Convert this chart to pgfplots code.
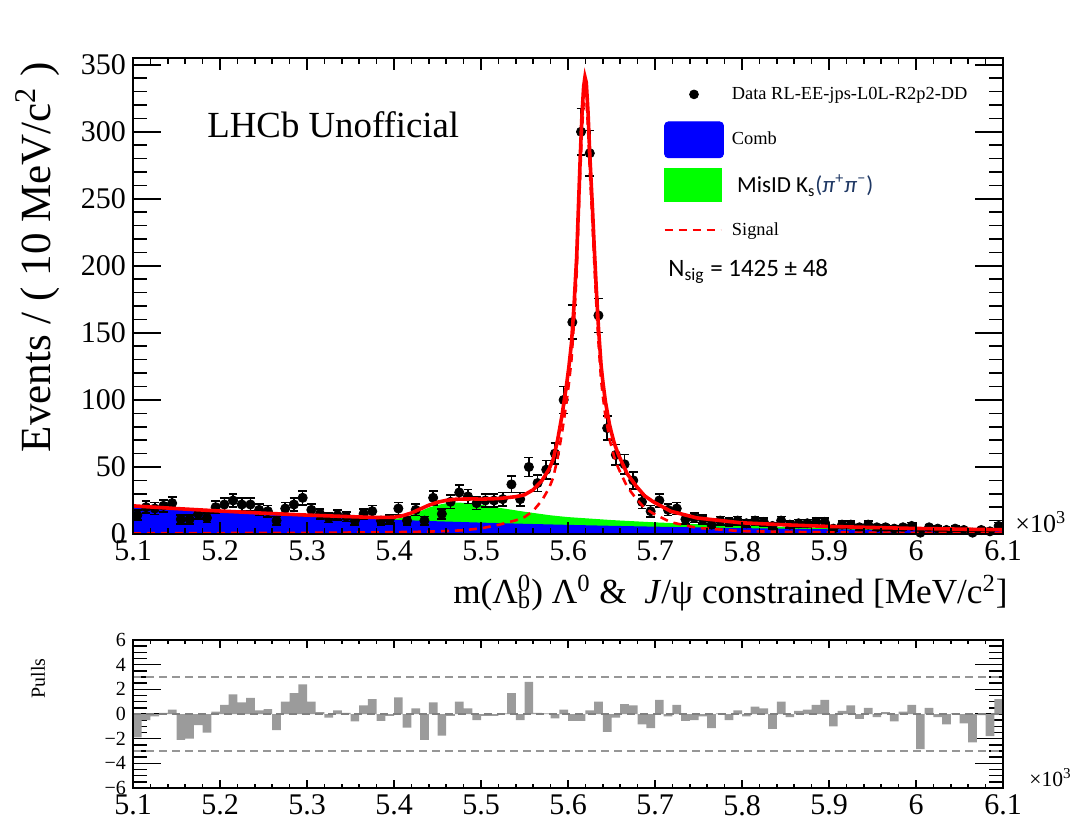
\documentclass[border=0pt]{standalone}
\usepackage{fontspec}
\setmainfont{Liberation Serif}
\newfontfamily\calibri{Carlito}
\usepackage{pgfplots}
\usepackage{pgfplotstable}
\pgfplotsset{compat=1.18}
\definecolor{rootblue}{RGB}{0,0,255}
\definecolor{rootgreen}{RGB}{0,255,0}
\definecolor{rootred}{RGB}{255,0,0}
\definecolor{pullgray}{RGB}{155,155,155}
\definecolor{dashgray}{RGB}{150,150,150}
\definecolor{mathblue}{RGB}{31,56,100}

% data: bin centres and counts
\pgfplotstableread{
x y
5.105 14
5.115 20
5.125 19
5.135 21
5.145 23
5.155 11
5.165 11
5.175 15
5.185 12
5.195 20
5.205 22
5.215 25
5.225 22
5.235 22
5.245 18
5.255 17
5.265 10
5.275 19
5.285 22
5.295 27
5.305 18
5.315 15
5.325 12
5.335 14
5.345 13
5.355 10
5.365 15
5.375 17
5.385 10
5.395 11
5.405 19
5.415 10
5.425 18
5.435 10
5.445 27
5.455 15
5.465 24
5.475 31
5.485 28
5.495 23
5.505 25
5.515 25
5.525 26
5.535 37
5.545 26
5.555 50
5.565 38
5.575 48
5.585 60
5.595 100
5.605 158
5.615 300
5.625 284
5.635 163
5.645 79
5.655 59
5.665 52
5.675 40
5.685 24
5.695 17
5.705 25
5.715 18
5.725 19
5.735 11
5.745 12
5.755 11
5.765 7
5.775 10
5.785 9
5.795 10
5.805 8
5.815 10
5.825 9
5.835 6
5.845 10
5.855 7
5.865 8
5.875 8
5.885 9
5.895 9
5.905 4
5.915 7
5.925 7
5.935 5
5.945 7
5.955 5
5.965 5
5.975 4
5.985 5
5.995 6
6.005 1
6.015 5
6.025 4
6.035 3
6.045 4
6.055 3
6.065 1
6.075 3
6.085 2
6.095 6
}\datatable

\pgfplotstableread{
x y
5.10 20.50
5.15 18.36
5.20 16.45
5.25 14.74
5.30 13.20
5.35 11.83
5.40 10.60
5.45 9.49
5.50 8.50
5.55 7.62
5.60 6.82
5.65 6.11
5.70 5.48
5.75 4.91
5.80 4.40
5.85 3.94
5.90 3.53
5.95 3.16
6.00 2.83
6.05 2.54
6.10 2.27
}\combtable

\pgfplotstableread{
x y
5.10 20.50
5.15 18.36
5.20 16.45
5.25 14.74
5.30 13.20
5.35 11.83
5.38 11.07
5.40 11.10
5.41 12.17
5.42 14.14
5.43 16.92
5.44 19.70
5.45 21.69
5.46 22.88
5.47 23.38
5.48 23.29
5.49 22.69
5.50 21.80
5.52 19.64
5.55 16.62
5.58 13.93
5.60 12.62
5.65 10.41
5.70 8.68
5.75 7.31
5.80 6.20
5.85 5.24
5.90 4.43
5.95 3.86
6.00 3.33
6.05 2.94
6.10 2.57
}\misidtable

\pgfplotstableread{
x y
5.10 0.5
5.15 0.6
5.20 0.7
5.25 0.8
5.30 0.9
5.35 1.1
5.38 1.25
5.40 1.4
5.42 1.55
5.44 1.8
5.46 2.2
5.48 2.8
5.50 4.2
5.52 6.8
5.54 10.2
5.55 12.6
5.56 17.3
5.57 25
5.578 34
5.583 42
5.588 56.5
5.593 75
5.598 97
5.601 112
5.604 130
5.607 159
5.610 195
5.612 232
5.614 268
5.616 300
5.618 322
5.6195 329
5.621 325
5.623 303
5.625 272
5.628 233
5.630 205
5.6325 172
5.635 143
5.638 115
5.640 103
5.643 88
5.648 70
5.653 57.7
5.658 48.9
5.668 35.2
5.678 26.6
5.688 19.4
5.698 15.25
5.718 8.8
5.748 4.63
5.798 2.16
5.85 1.6
5.90 1.2
5.95 1.0
6.00 0.8
6.05 0.7
6.10 0.6
}\sigtable

\pgfplotstableread{
x y
5.10 21.0
5.15 18.96
5.20 17.15
5.25 15.54
5.30 14.10
5.35 12.93
5.38 12.32
5.40 12.50
5.41 13.64
5.42 15.69
5.43 18.59
5.44 21.50
5.45 23.69
5.46 25.08
5.47 25.88
5.48 26.09
5.49 26.19
5.50 26.00
5.52 26.44
5.54 27.83
5.55 29.22
5.56 33.02
5.57 39.83
5.578 48.11
5.583 55.73
5.588 69.91
5.593 88.08
5.598 109.75
5.601 124.58
5.604 142.44
5.607 171.31
5.610 207.18
5.612 244.09
5.614 280.00
5.616 311.91
5.618 333.82
5.6195 340.76
5.621 336.69
5.623 314.60
5.625 283.51
5.628 244.38
5.630 216.29
5.6325 183.18
5.635 154.07
5.638 125.94
5.640 113.85
5.643 98.72
5.648 80.50
5.653 68.01
5.658 59.03
5.668 44.99
5.678 36.04
5.688 28.50
5.698 24.00
5.718 16.99
5.748 12.00
5.798 8.40
5.85 6.84
5.90 5.63
5.95 4.86
6.00 4.13
6.05 3.64
6.10 3.17
}\totaltable

\pgfplotstableread{
x y
5.105 -1.9
5.115 -0.5
5.125 -0.2
5.135 0.1
5.145 0.35
5.155 -2.1
5.165 -2.0
5.175 -0.9
5.185 -1.5
5.195 0.2
5.205 0.75
5.215 1.6
5.225 0.95
5.235 1.3
5.245 0.3
5.255 0.4
5.265 -1.3
5.275 1.0
5.285 1.7
5.295 2.4
5.305 1.0
5.315 0.15
5.325 -0.3
5.335 0.3
5.345 0.1
5.355 -0.6
5.365 0.7
5.375 1.2
5.385 -0.55
5.395 -0.15
5.405 1.35
5.415 -1.1
5.425 0.45
5.435 -2.1
5.445 0.95
5.455 -1.75
5.465 -0.15
5.475 1.0
5.485 0.45
5.495 -0.5
5.505 -0.15
5.515 -0.15
5.525 0.05
5.535 1.7
5.545 -0.5
5.555 2.6
5.565 0.1
5.575 0.05
5.585 -0.35
5.595 0.35
5.605 -0.55
5.615 -0.55
5.625 0.3
5.635 1.0
5.645 -1.45
5.655 -0.3
5.665 0.8
5.675 0.7
5.685 -0.85
5.695 -1.15
5.705 1.15
5.715 -0.2
5.725 0.75
5.735 -0.55
5.745 -0.5
5.755 -0.2
5.765 -1.15
5.775 0.05
5.785 -0.5
5.795 0.3
5.805 -0.2
5.815 0.6
5.825 0.45
5.835 -1.2
5.845 1.0
5.855 -0.25
5.865 0.25
5.875 0.35
5.885 0.75
5.895 1.15
5.905 -1.0
5.915 0.25
5.925 0.7
5.935 -0.4
5.945 0.5
5.955 -0.25
5.965 0.15
5.975 -0.6
5.985 0.2
5.995 0.75
6.005 -2.85
6.015 0.5
6.025 -0.25
6.035 -0.85
6.045 0.05
6.055 -0.75
6.065 -2.3
6.075 -0.1
6.085 -1.8
6.095 1.2
}\pulltable

\pgfplotsset{
  rootframe/.style={scale only axis, axis line style={line width=0.9pt}, tick align=inside,
    xmin=5.1, xmax=6.1, every tick/.style={line width=0.8pt, black}},
  rootxticks/.style={
    xtick={5.1,5.2,5.3,5.4,5.5,5.6,5.7,5.8,5.9,6.0,6.1},
    xticklabels={5.1,5.2,5.3,5.4,5.5,5.6,5.7,5.8,5.9,6,6.1},
    minor x tick num=4,
    xticklabel style={font=\fontsize{15}{15}\selectfont}},
}

\begin{document}
\begin{tikzpicture}
\path[use as bounding box] (0,0) rectangle (537pt,410.5pt);

% ---------- top panel: plots and y ticks ----------
\begin{axis}[
  rootframe,
  at={(66.5pt,143.5pt)}, anchor=south west,
  width=435pt, height=238pt,
  ymin=0, ymax=355,
  clip mode=individual,
  xtick=\empty,
  ytick={0,50,100,150,200,250,300,350},
  yticklabels={0,50,100,150,200,250,300,350},
  minor y tick num=4,
  major tick length=14pt, minor tick length=7pt,
  yticklabel style={font=\fontsize{15}{15}\selectfont},
  legend cell align=left,
  legend style={at={(axis description cs:0.6092,0.9622)}, anchor=north west,
    draw=none, fill=none, inner sep=0pt, row sep=4.5pt, column sep=2pt,
    font=\fontsize{9.2}{11}\selectfont},
]
\addlegendimage{legend image code/.code={\path[draw=none,fill=none] (0pt,-9pt) rectangle (29.5pt,9pt); \fill[black] (14.75pt,0pt) circle (2.2pt);}}
\addlegendentry{Data RL-EE-jps-L0L-R2p2-DD}
\addlegendimage{legend image code/.code={\fill[rootblue, rounded corners=2pt] (0pt,-9pt) rectangle (29.5pt,9pt);}}
\addlegendentry{Comb}
\addlegendimage{legend image code/.code={\path[draw=none,fill=none] (0pt,-9pt) rectangle (29.5pt,9pt); \fill[rootgreen] (0pt,-8.25pt) rectangle (28.5pt,8.25pt);}}
\addlegendentry{{\calibri\fontsize{11.5}{13}\selectfont\ MisID K\textsubscript{s}\textcolor{mathblue}{(\textit{π}\textsuperscript{+}\textit{π}\textsuperscript{−})}}}
\addlegendimage{legend image code/.code={\path[draw=none,fill=none] (0pt,-9pt) rectangle (29.5pt,9pt); \draw[rootred, line width=1.1pt, dash pattern=on 4pt off 3pt] (0pt,0pt) -- (28pt,0pt);}}
\addlegendentry{Signal}

\addplot[fill=rootgreen, draw=none, forget plot] table {\misidtable} \closedcycle;
\addplot[fill=rootblue, draw=none, forget plot] table {\combtable} \closedcycle;

\addplot[only marks, mark=*, mark size=2.3pt, mark options={fill=black, draw=black}, forget plot,
  error bars/.cd, y dir=both, y explicit,
  error bar style={line width=0.8pt, black},
  error mark options={rotate=90, mark size=2.2pt, line width=0.8pt, black}]
  table[x=x, y=y, y error expr=sqrt(\thisrow{y})] {\datatable};

\addplot[rootred, line width=1.3pt, dash pattern=on 4pt off 3pt, forget plot] table {\sigtable};
\addplot[rootred, line width=1.8pt, forget plot] table {\totaltable};

\node[anchor=base west, inner sep=0pt, font=\fontsize{18.4}{20}\selectfont] at (axis description cs:0.0851,0.834) {LHCb Unofficial};
\node[anchor=base west, inner sep=0pt, font=\calibri\fontsize{12.5}{14}\selectfont] at (axis description cs:0.6149,0.540) {N\textsubscript{sig} = 1425 ± 48};
\node[anchor=west, inner sep=0pt, font=\fontsize{13}{13}\selectfont] at ([xshift=6pt,yshift=6pt]rel axis cs:1,0) {×10\textsuperscript{3}};
\node[anchor=east, inner sep=0pt, font=\fontsize{17.6}{18}\selectfont] at ([xshift=2.5pt,yshift=-29.5pt]rel axis cs:1,0) {m(Λ\rlap{\textsuperscript{0}}\textsubscript{b}) Λ\textsuperscript{0} \&\ \ \textit{J}/ψ constrained [MeV/c\textsuperscript{2}]};
\node[rotate=90, anchor=east, inner sep=0pt, font=\fontsize{21.5}{21.5}\selectfont] at ([xshift=-47.5pt]rel axis cs:0,0.992) {Events / ( 10 MeV/c\textsuperscript{2} )};
\end{axis}

% ---------- top panel: x ticks ----------
\begin{axis}[
  rootframe, rootxticks,
  at={(66.5pt,143.5pt)}, anchor=south west,
  width=435pt, height=238pt,
  ymin=0, ymax=355, ytick=\empty,
  major tick length=6pt, minor tick length=3pt,
]
\end{axis}

% ---------- bottom panel: bars and y ticks ----------
\begin{axis}[
  rootframe,
  at={(66.5pt,16.5pt)}, anchor=south west,
  width=435pt, height=74pt,
  ymin=-6, ymax=6,
  clip mode=individual,
  xtick=\empty,
  ytick={-6,-4,-2,0,2,4,6},
  yticklabels={−6,−4,−2,0,2,4,6},
  minor y tick num=3,
  major tick length=14pt, minor tick length=7pt,
  yticklabel style={font=\fontsize{10}{10}\selectfont},
]
\addplot[ybar, bar width=0.01, bar shift=0pt, fill=pullgray, draw=none] table {\pulltable};
\addplot[dashgray, line width=0.6pt, dash pattern=on 4pt off 2.5pt] coordinates {(5.1,3) (6.1,3)};
\addplot[dashgray, line width=0.6pt, dash pattern=on 4pt off 2.5pt] coordinates {(5.1,-3) (6.1,-3)};
\addplot[gray, line width=0.6pt, dash pattern=on 4pt off 2.5pt] coordinates {(5.1,0) (6.1,0)};
\node[rotate=90, anchor=center, inner sep=0pt, font=\fontsize{10}{10}\selectfont] at ([xshift=-47.5pt]rel axis cs:0,0.74) {Pulls};
\node[anchor=west, inner sep=0pt, font=\fontsize{10.8}{11}\selectfont] at ([xshift=13pt,yshift=5pt]rel axis cs:1,0) {×10\textsuperscript{3}};
\end{axis}

% ---------- bottom panel: x ticks ----------
\begin{axis}[
  rootframe, rootxticks,
  at={(66.5pt,16.5pt)}, anchor=south west,
  width=435pt, height=74pt,
  ymin=-6, ymax=6, ytick=\empty,
  major tick length=4pt, minor tick length=2pt,
]
\end{axis}
\end{tikzpicture}
\end{document}
